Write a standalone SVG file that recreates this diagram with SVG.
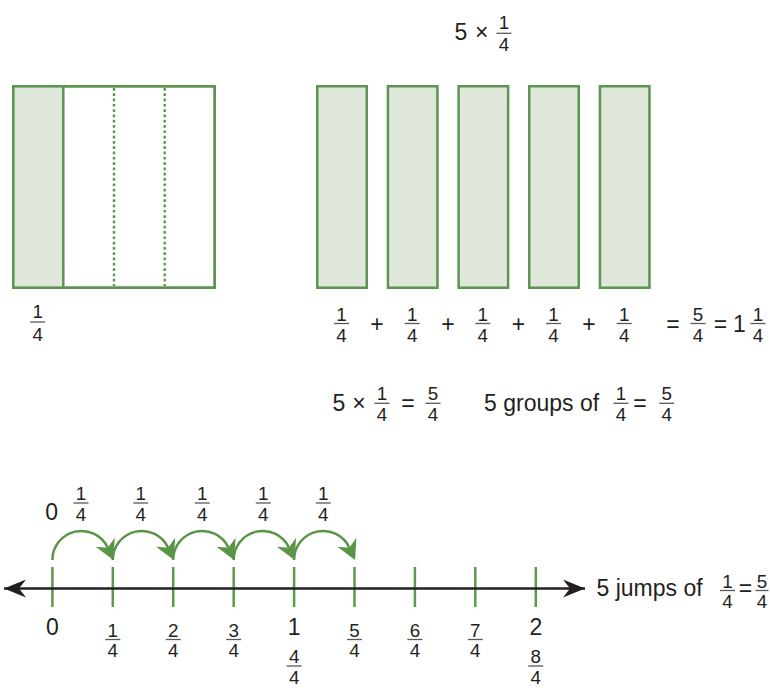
<svg xmlns="http://www.w3.org/2000/svg" width="770" height="688" viewBox="0 0 770 688">
<style>
  text { font-family: "Liberation Sans", Arial, sans-serif; fill: #231f20; }
  .m { font-size: 23px; text-anchor: middle; }
  .ms { font-size: 23px; text-anchor: start; }
  .fd { font-size: 18.8px; text-anchor: middle; }
  .fb { stroke: #58595b; stroke-width: 1.3; }
  .box { fill: #ffffff; stroke: #5b9550; stroke-width: 2.5; }
  .strip { fill: #dfe6da; stroke: #5b9550; stroke-width: 2.5; }
  .shade { fill: #dfe6da; stroke: none; }
  .div { stroke: #5b9550; stroke-width: 2.5; }
  .dot { stroke: #5b9550; stroke-width: 2.4; stroke-dasharray: 2.7 2.6; }
  .tick { stroke: #5a9a4c; stroke-width: 2.5; }
  .jump { fill: none; stroke: #5a9447; stroke-width: 2.5; marker-end: url(#jumpHead); }
  .axis { stroke: #231f20; stroke-width: 2.5; marker-start: url(#axisHead); marker-end: url(#axisHead); }
</style>
<defs>
  <marker id="jumpHead" markerUnits="userSpaceOnUse" viewBox="-7 -12 22 24" markerWidth="22" markerHeight="24" refX="0" refY="0" orient="auto">
    <path d="M13.5,0 L-6,-10.5 L0,0 L-6,10.5 Z" fill="#5a9447"/>
  </marker>
  <marker id="axisHead" markerUnits="userSpaceOnUse" viewBox="-23 -10 24 20" markerWidth="24" markerHeight="20" refX="0" refY="0" orient="auto-start-reverse">
    <path d="M0,0 L-22,-9 L-15,0 L-22,9 Z" fill="#231f20"/>
  </marker>
</defs>
<rect width="770" height="688" fill="#ffffff"/>

<!-- unit square divided into fourths -->
<g id="unit-square">
  <rect class="box" x="13.25" y="86.25" width="201.5" height="201.5"/>
  <rect class="shade" x="14.5" y="87.5" width="48.8" height="199"/>
  <line class="div" x1="63.3" y1="86.25" x2="63.3" y2="287.75"/>
  <line class="dot" x1="114" y1="88" x2="114" y2="286"/>
  <line class="dot" x1="164.7" y1="88" x2="164.7" y2="286"/>
  <rect x="13.25" y="86.25" width="201.5" height="201.5" fill="none" stroke="#5b9550" stroke-width="2.5"/>
  <g transform="translate(37.7,322)">
    <text class="fd" x="0" y="-4">1</text><line class="fb" x1="-7.5" y1="0" x2="7.5" y2="0"/><text class="fd" x="0" y="18.5">4</text>
  </g>
</g>

<!-- title 5 x 1/4 -->
<g id="title">
  <text class="m" x="461" y="40">5</text>
  <text class="m" x="481.7" y="40">×</text>
  <g transform="translate(504,33.3)">
    <text class="fd" x="0" y="-4.5">1</text><line class="fb" x1="-7.5" y1="0" x2="7.5" y2="0"/><text class="fd" x="0" y="17.5">4</text>
  </g>
</g>

<!-- five one-fourth strips -->
<g id="five-strips">
  <rect class="strip" x="317.25" y="86.25" width="49.5" height="201.5"/>
  <rect class="strip" x="387.95" y="86.25" width="49.5" height="201.5"/>
  <rect class="strip" x="458.6" y="86.25" width="49.5" height="201.5"/>
  <rect class="strip" x="529.25" y="86.25" width="49.5" height="201.5"/>
  <rect class="strip" x="599.95" y="86.25" width="49.5" height="201.5"/>
</g>

<!-- sum row -->
<g id="sum-row">
  <g transform="translate(341.5,323.5)"><text class="fd" x="0" y="-3">1</text><line class="fb" x1="-7.5" y1="0" x2="7.5" y2="0"/><text class="fd" x="0" y="18">4</text></g>
  <text class="m" x="377" y="331.5">+</text>
  <g transform="translate(412.2,323.5)"><text class="fd" x="0" y="-3">1</text><line class="fb" x1="-7.5" y1="0" x2="7.5" y2="0"/><text class="fd" x="0" y="18">4</text></g>
  <text class="m" x="448" y="331.5">+</text>
  <g transform="translate(482.8,323.5)"><text class="fd" x="0" y="-3">1</text><line class="fb" x1="-7.5" y1="0" x2="7.5" y2="0"/><text class="fd" x="0" y="18">4</text></g>
  <text class="m" x="518.5" y="331.5">+</text>
  <g transform="translate(553.5,323.5)"><text class="fd" x="0" y="-3">1</text><line class="fb" x1="-7.5" y1="0" x2="7.5" y2="0"/><text class="fd" x="0" y="18">4</text></g>
  <text class="m" x="589" y="331.5">+</text>
  <g transform="translate(624.2,323.5)"><text class="fd" x="0" y="-3">1</text><line class="fb" x1="-7.5" y1="0" x2="7.5" y2="0"/><text class="fd" x="0" y="18">4</text></g>
  <text class="m" x="673" y="331.5">=</text>
  <g transform="translate(698,323.5)"><text class="fd" x="0" y="-3">5</text><line class="fb" x1="-7.5" y1="0" x2="7.5" y2="0"/><text class="fd" x="0" y="18">4</text></g>
  <text class="m" x="720.5" y="331.5">=</text>
  <text class="m" x="739.5" y="331.5">1</text>
  <g transform="translate(758,323.5)"><text class="fd" x="0" y="-3">1</text><line class="fb" x1="-7.5" y1="0" x2="7.5" y2="0"/><text class="fd" x="0" y="18">4</text></g>
</g>

<!-- equation row -->
<g id="equation-row">
  <text class="m" x="339" y="410.7">5</text>
  <text class="m" x="359" y="410.7">×</text>
  <g transform="translate(382,403.3)"><text class="fd" x="0" y="-3">1</text><line class="fb" x1="-7.5" y1="0" x2="7.5" y2="0"/><text class="fd" x="0" y="18">4</text></g>
  <text class="m" x="408" y="410.7">=</text>
  <g transform="translate(433,403.3)"><text class="fd" x="0" y="-3">5</text><line class="fb" x1="-7.5" y1="0" x2="7.5" y2="0"/><text class="fd" x="0" y="18">4</text></g>
  <text class="ms" x="484" y="410.7">5 groups of</text>
  <g transform="translate(621,403.3)"><text class="fd" x="0" y="-3">1</text><line class="fb" x1="-7.5" y1="0" x2="7.5" y2="0"/><text class="fd" x="0" y="18">4</text></g>
  <text class="m" x="640" y="410.7">=</text>
  <g transform="translate(666.7,403.3)"><text class="fd" x="0" y="-3">5</text><line class="fb" x1="-7.5" y1="0" x2="7.5" y2="0"/><text class="fd" x="0" y="18">4</text></g>
</g>

<!-- jump labels -->
<g id="jump-labels">
  <text class="m" x="51.7" y="520">0</text>
  <g transform="translate(81,503)"><text class="fd" x="0" y="-3">1</text><line class="fb" x1="-7.5" y1="0" x2="7.5" y2="0"/><text class="fd" x="0" y="18">4</text></g>
  <g transform="translate(140.7,503)"><text class="fd" x="0" y="-3">1</text><line class="fb" x1="-7.5" y1="0" x2="7.5" y2="0"/><text class="fd" x="0" y="18">4</text></g>
  <g transform="translate(202.3,503)"><text class="fd" x="0" y="-3">1</text><line class="fb" x1="-7.5" y1="0" x2="7.5" y2="0"/><text class="fd" x="0" y="18">4</text></g>
  <g transform="translate(263.3,503)"><text class="fd" x="0" y="-3">1</text><line class="fb" x1="-7.5" y1="0" x2="7.5" y2="0"/><text class="fd" x="0" y="18">4</text></g>
  <g transform="translate(323.3,503)"><text class="fd" x="0" y="-3">1</text><line class="fb" x1="-7.5" y1="0" x2="7.5" y2="0"/><text class="fd" x="0" y="18">4</text></g>
</g>

<!-- number line ticks -->
<g id="ticks">
  <line class="tick" x1="52.4" y1="567" x2="52.4" y2="607"/>
  <line class="tick" x1="112.8" y1="567" x2="112.8" y2="607"/>
  <line class="tick" x1="173.2" y1="567" x2="173.2" y2="607"/>
  <line class="tick" x1="233.7" y1="567" x2="233.7" y2="607"/>
  <line class="tick" x1="294.1" y1="567" x2="294.1" y2="607"/>
  <line class="tick" x1="354.5" y1="567" x2="354.5" y2="607"/>
  <line class="tick" x1="414.9" y1="567" x2="414.9" y2="607"/>
  <line class="tick" x1="475.3" y1="567" x2="475.3" y2="607"/>
  <line class="tick" x1="535.8" y1="567" x2="535.8" y2="607"/>
</g>

<!-- connectors: axis and jumps -->
<g id="connectors">
  <line class="axis" x1="4" y1="588.5" x2="585" y2="588.5"/>
  <path class="jump" d="M52.4,560 A29,29 0 0 1 107.7,547.7"/>
  <path class="jump" d="M112.8,560 A29,29 0 0 1 168.1,547.7"/>
  <path class="jump" d="M173.2,560 A29,29 0 0 1 228.5,547.7"/>
  <path class="jump" d="M233.7,560 A29,29 0 0 1 289,547.7"/>
  <path class="jump" d="M294.1,560 A29,29 0 0 1 349.4,547.7"/>
</g>

<!-- number line labels -->
<g id="tick-labels">
  <text class="m" x="52.4" y="634.5">0</text>
  <g transform="translate(112.8,639.5)"><text class="fd" x="0" y="-3">1</text><line class="fb" x1="-7.5" y1="0" x2="7.5" y2="0"/><text class="fd" x="0" y="17.5">4</text></g>
  <g transform="translate(173.2,639.5)"><text class="fd" x="0" y="-3">2</text><line class="fb" x1="-7.5" y1="0" x2="7.5" y2="0"/><text class="fd" x="0" y="17.5">4</text></g>
  <g transform="translate(233.7,639.5)"><text class="fd" x="0" y="-3">3</text><line class="fb" x1="-7.5" y1="0" x2="7.5" y2="0"/><text class="fd" x="0" y="17.5">4</text></g>
  <text class="m" x="294.1" y="634.5">1</text>
  <g transform="translate(294.1,666)"><text class="fd" x="0" y="-3">4</text><line class="fb" x1="-7.5" y1="0" x2="7.5" y2="0"/><text class="fd" x="0" y="18">4</text></g>
  <g transform="translate(354.5,639.5)"><text class="fd" x="0" y="-3">5</text><line class="fb" x1="-7.5" y1="0" x2="7.5" y2="0"/><text class="fd" x="0" y="17.5">4</text></g>
  <g transform="translate(414.9,639.5)"><text class="fd" x="0" y="-3">6</text><line class="fb" x1="-7.5" y1="0" x2="7.5" y2="0"/><text class="fd" x="0" y="17.5">4</text></g>
  <g transform="translate(475.3,639.5)"><text class="fd" x="0" y="-3">7</text><line class="fb" x1="-7.5" y1="0" x2="7.5" y2="0"/><text class="fd" x="0" y="17.5">4</text></g>
  <text class="m" x="535.8" y="634.5">2</text>
  <g transform="translate(535.8,666)"><text class="fd" x="0" y="-3">8</text><line class="fb" x1="-7.5" y1="0" x2="7.5" y2="0"/><text class="fd" x="0" y="18">4</text></g>
</g>

<!-- jumps statement -->
<g id="jumps-statement">
  <text class="ms" x="596.5" y="596">5 jumps of</text>
  <g transform="translate(727.5,590.5)"><text class="fd" x="0" y="-3">1</text><line class="fb" x1="-7.5" y1="0" x2="7.5" y2="0"/><text class="fd" x="0" y="17">4</text></g>
  <text class="m" x="745.5" y="596">=</text>
  <g transform="translate(762,590.5)"><text class="fd" x="0" y="-3">5</text><line class="fb" x1="-6.5" y1="0" x2="6.5" y2="0"/><text class="fd" x="0" y="17">4</text></g>
</g>
</svg>
